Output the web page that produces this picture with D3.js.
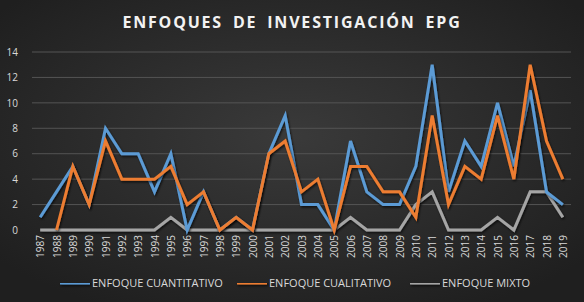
<!DOCTYPE html>
<html>
<head>
<meta charset="utf-8">
<script src="https://cdn.jsdelivr.net/npm/d3@7"></script>
<style>
  body { margin: 0; background: #222; }
  svg { display: block; }
</style>
</head>
<body>
<div id="container"></div>
<script>
/* DATA */
const years = d3.range(1987, 2020).map(String);
const cuantitativo = [1,3,5,2,8,6,6,3,6,0,3,0,1,0,6,9,2,2,0,7,3,2,2,5,13,3,7,5,10,5,11,3,2];
const cualitativo = [null,0,5,2,7,4,4,4,5,2,3,0,1,0,6,7,3,4,0,5,5,3,3,1,9,2,5,4,9,4,13,7,4];
const mixto = [0,0,0,0,0,0,0,0,1,0,0,0,0,0,0,0,0,0,0,1,0,0,0,2,3,0,0,0,1,0,3,3,1];
const yTicks = [0,2,4,6,8,10,12,14];
const seriesNames = ["ENFOQUE CUANTITATIVO", "ENFOQUE CUALITATIVO", "ENFOQUE MIXTO"];
const colors = ["#5B9BD5", "#ED7D31", "#A5A5A5"];

const width = 584, height = 302;
const margin = {top: 52, right: 13, bottom: 72, left: 32};
const font = "'Open Sans', sans-serif";

const svg = d3.select("#container").append("svg")
  .attr("width", width).attr("height", height);

// background
const defs = svg.append("defs");
const grad = defs.append("radialGradient").attr("id", "bg")
  .attr("cx", "50%").attr("cy", "45%").attr("r", "65%");
grad.append("stop").attr("offset", "0%").attr("stop-color", "#3a3a3a");
grad.append("stop").attr("offset", "100%").attr("stop-color", "#1f1f1f");
const shadow = defs.append("filter").attr("id", "sh")
  .attr("filterUnits", "userSpaceOnUse")
  .attr("x", 0).attr("y", 0).attr("width", width).attr("height", height);
shadow.append("feDropShadow").attr("dx", 1).attr("dy", 1.5)
  .attr("stdDeviation", 1.2).attr("flood-color", "#000").attr("flood-opacity", 0.7);

svg.append("rect").attr("width", width).attr("height", height).attr("fill", "url(#bg)");

/* SCALES */
const xScale = d3.scalePoint()
  .domain(years)
  .range([margin.left, width - margin.right])
  .padding(0.5);

const yScale = d3.scaleLinear()
  .domain([0, 14])
  .range([height - margin.bottom, margin.top]);

// gridlines
svg.append("g")
  .selectAll("line")
  .data(yTicks.filter(d => d > 0))
  .join("line")
  .attr("x1", margin.left).attr("x2", width - margin.right)
  .attr("y1", d => yScale(d)).attr("y2", d => yScale(d))
  .attr("stroke", "#545454").attr("stroke-width", 1);

// y axis
const yAxis = svg.append("g")
  .attr("transform", "translate(" + margin.left + ",0)")
  .call(d3.axisLeft(yScale).tickValues(yTicks).tickSize(0).tickPadding(14));
yAxis.select(".domain").remove();
yAxis.selectAll("text")
  .attr("fill", "#d9d9d9").style("font-family", font)
  .style("font-size", "10px");

// x axis
const xAxis = svg.append("g")
  .attr("transform", "translate(0," + (height - margin.bottom) + ")")
  .call(d3.axisBottom(xScale).tickSize(0).tickPadding(4));
xAxis.select(".domain").remove();
xAxis.selectAll("text")
  .attr("fill", "#d9d9d9")
  .style("font-family", font)
  .style("font-size", "10px")
  .attr("transform", "rotate(-90)")
  .attr("dy", "0.35em")
  .attr("x", -5).attr("y", 0)
  .style("text-anchor", "end");

// lines
const allSeries = [cuantitativo, cualitativo, mixto];
const line = d3.line()
  .defined(d => d.v !== null)
  .x(d => xScale(d.year))
  .y(d => yScale(d.v));

// gray first, then blue, orange on top
[2, 0, 1].forEach(i => {
  const pts = years.map((y, j) => ({year: y, v: allSeries[i][j]}));
  svg.append("path")
    .datum(pts)
    .attr("d", line)
    .attr("fill", "none")
    .attr("stroke", colors[i])
    .attr("stroke-width", 3)
    .attr("stroke-linejoin", "miter")
    .attr("filter", "url(#sh)");
});

// title
svg.append("text")
  .attr("x", width / 2).attr("y", 28)
  .attr("text-anchor", "middle")
  .attr("fill", "#f2f2f2")
  .style("font-family", font)
  .style("font-weight", "bold")
  .style("font-size", "16px")
  .style("letter-spacing", "1.8px")
  .style("word-spacing", "4px")
  .text("ENFOQUES DE INVESTIGACIÓN EPG");

// legend
const legendX = [60, 237, 410];
const legend = svg.append("g").attr("transform", "translate(0,283)");
seriesNames.forEach((name, i) => {
  legend.append("line")
    .attr("x1", legendX[i]).attr("x2", legendX[i] + 30)
    .attr("y1", 0).attr("y2", 0)
    .attr("stroke", colors[i]).attr("stroke-width", 3)
    .attr("filter", "url(#sh)");
  legend.append("text")
    .attr("x", legendX[i] + 32).attr("y", 0)
    .attr("dy", "0.35em")
    .attr("fill", "#d9d9d9")
    .style("font-family", font)
    .style("font-size", "11px")
    .text(name);
});
</script>
</body>
</html>
